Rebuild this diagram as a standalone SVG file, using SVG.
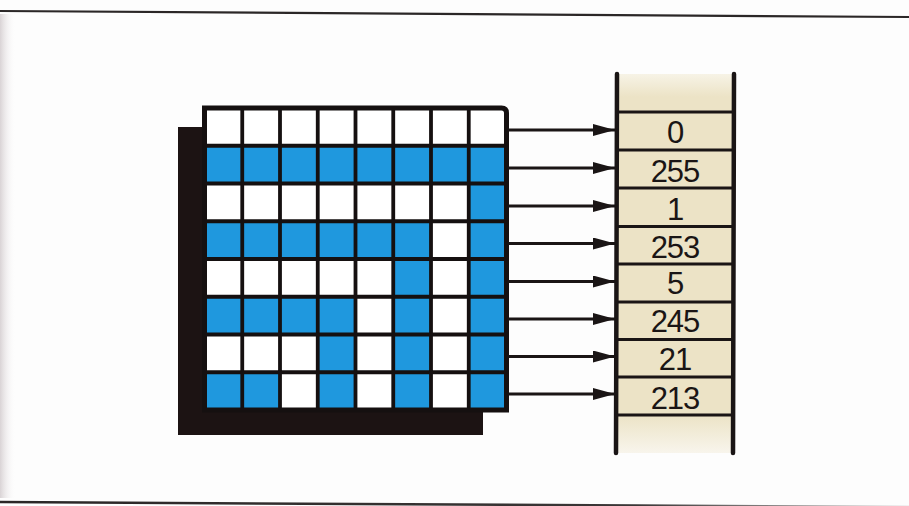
<svg xmlns="http://www.w3.org/2000/svg" width="909" height="506" viewBox="0 0 909 506">
  <defs>
    <style>
      .blue { fill: #1f98de; }
      .gridline { stroke: #151010; stroke-width: 3.8; fill: none; }
      .frame { stroke: #151010; stroke-width: 5; fill: none; }
      .arrow { stroke: #1a1515; stroke-width: 3; fill: none; }
      .sep { stroke: #1a1515; stroke-width: 3; }
      .rail { stroke: #1a1515; stroke-width: 4.5; stroke-linecap: round; }
      .val { font-family: "Liberation Sans", "DejaVu Sans", sans-serif; font-size: 31px; letter-spacing: -1px; fill: #1a1515; text-anchor: middle; }
    </style>
    <linearGradient id="stackFill" x1="0" y1="0" x2="0" y2="1">
      <stop offset="0" stop-color="#f7f3e6"/>
      <stop offset="0.06" stop-color="#ece3c6"/>
      <stop offset="0.9" stop-color="#ece3c6"/>
      <stop offset="1" stop-color="#f8f5ec"/>
    </linearGradient>
    <linearGradient id="gutter" x1="0" y1="0" x2="1" y2="0">
      <stop offset="0" stop-color="#d9d3d5"/>
      <stop offset="1" stop-color="#ffffff" stop-opacity="0"/>
    </linearGradient>
    <linearGradient id="bottomRule" x1="0" y1="0" x2="1" y2="0">
      <stop offset="0" stop-color="#2a2626"/>
      <stop offset="0.7" stop-color="#3a3636"/>
      <stop offset="1" stop-color="#cfcccc"/>
    </linearGradient>
    <marker id="head" viewBox="0 0 22 12" refX="22" refY="6" markerWidth="22" markerHeight="12" markerUnits="userSpaceOnUse" orient="auto">
      <path d="M0,0 L22,6 L0,12 Z" fill="#1a1515"/>
    </marker>
  </defs>

  <rect x="0" y="0" width="909" height="506" fill="#fdfdfd"/>
  <rect x="0" y="14" width="16" height="484" fill="url(#gutter)"/>

  <!-- page rules -->
  <line x1="0" y1="11" x2="909" y2="17" stroke="#2b2727" stroke-width="2.2"/>
  <line x1="0" y1="502" x2="909" y2="507" stroke="url(#bottomRule)" stroke-width="2.5"/>

  <!-- bitmap grid -->
  <g id="grid">
    <rect x="178" y="127" width="305" height="308" fill="#1c1313"/>
    <rect x="204.5" y="108" width="302" height="302" fill="#ffffff"/>
    <g id="row1">
      <rect class="blue" x="204.5" y="145.75" width="302" height="37.75"/>
    </g>
    <g id="row2">
      <rect class="blue" x="468.75" y="183.5" width="37.75" height="37.75"/>
    </g>
    <g id="row3">
      <rect class="blue" x="204.5" y="221.25" width="226.5" height="37.75"/>
      <rect class="blue" x="468.75" y="221.25" width="37.75" height="37.75"/>
    </g>
    <g id="row4">
      <rect class="blue" x="393.25" y="259" width="37.75" height="37.75"/>
      <rect class="blue" x="468.75" y="259" width="37.75" height="37.75"/>
    </g>
    <g id="row5">
      <rect class="blue" x="204.5" y="296.75" width="151" height="37.75"/>
      <rect class="blue" x="393.25" y="296.75" width="37.75" height="37.75"/>
      <rect class="blue" x="468.75" y="296.75" width="37.75" height="37.75"/>
    </g>
    <g id="row6">
      <rect class="blue" x="317.75" y="334.5" width="37.75" height="37.75"/>
      <rect class="blue" x="393.25" y="334.5" width="37.75" height="37.75"/>
      <rect class="blue" x="468.75" y="334.5" width="37.75" height="37.75"/>
    </g>
    <g id="row7">
      <rect class="blue" x="204.5" y="372.25" width="75.5" height="37.75"/>
      <rect class="blue" x="317.75" y="372.25" width="37.75" height="37.75"/>
      <rect class="blue" x="393.25" y="372.25" width="37.75" height="37.75"/>
      <rect class="blue" x="468.75" y="372.25" width="37.75" height="37.75"/>
    </g>
    <path class="gridline" d="M242.25,108V410 M280,108V410 M317.75,108V410 M355.5,108V410 M393.25,108V410 M431,108V410 M468.75,108V410
      M204.5,145.75H506.5 M204.5,183.5H506.5 M204.5,221.25H506.5 M204.5,259H506.5 M204.5,296.75H506.5 M204.5,334.5H506.5 M204.5,372.25H506.5"/>
    <path class="frame" d="M204.5,410 V108 H501.5 Q506.5,108 506.5,113 V410 Z"/>
  </g>

  <!-- connectors -->
  <g id="connectors">
    <line class="arrow" x1="508" y1="130" x2="615" y2="130" marker-end="url(#head)"/>
    <line class="arrow" x1="508" y1="168" x2="615" y2="168" marker-end="url(#head)"/>
    <line class="arrow" x1="508" y1="206" x2="615" y2="206" marker-end="url(#head)"/>
    <line class="arrow" x1="508" y1="243.5" x2="615" y2="243.5" marker-end="url(#head)"/>
    <line class="arrow" x1="508" y1="281.5" x2="615" y2="281.5" marker-end="url(#head)"/>
    <line class="arrow" x1="508" y1="319" x2="615" y2="319" marker-end="url(#head)"/>
    <line class="arrow" x1="508" y1="356.5" x2="615" y2="356.5" marker-end="url(#head)"/>
    <line class="arrow" x1="508" y1="394" x2="615" y2="394" marker-end="url(#head)"/>
  </g>

  <!-- memory stack -->
  <g id="memory">
    <rect x="618" y="74" width="115" height="379" fill="url(#stackFill)"/>
    <line class="sep" x1="618" y1="112" x2="733" y2="112"/>
    <line class="sep" x1="618" y1="150" x2="733" y2="150"/>
    <line class="sep" x1="618" y1="188" x2="733" y2="188"/>
    <line class="sep" x1="618" y1="226.5" x2="733" y2="226.5"/>
    <line class="sep" x1="618" y1="264" x2="733" y2="264"/>
    <line class="sep" x1="618" y1="302" x2="733" y2="302"/>
    <line class="sep" x1="618" y1="339.5" x2="733" y2="339.5"/>
    <line class="sep" x1="618" y1="377" x2="733" y2="377"/>
    <line class="sep" x1="618" y1="415" x2="733" y2="415"/>
    <line class="rail" x1="617" y1="74" x2="616" y2="453"/>
    <line class="rail" x1="734" y1="74" x2="733" y2="453"/>
    <g id="cell0"><text class="val" x="675" y="143">0</text></g>
    <g id="cell1"><text class="val" x="675" y="181.5">255</text></g>
    <g id="cell2"><text class="val" x="675" y="219.5">1</text></g>
    <g id="cell3"><text class="val" x="675" y="257.5">253</text></g>
    <g id="cell4"><text class="val" x="675" y="294">5</text></g>
    <g id="cell5"><text class="val" x="675" y="332">245</text></g>
    <g id="cell6"><text class="val" x="675" y="370">21</text></g>
    <g id="cell7"><text class="val" x="675" y="408.5">213</text></g>
  </g>
</svg>
